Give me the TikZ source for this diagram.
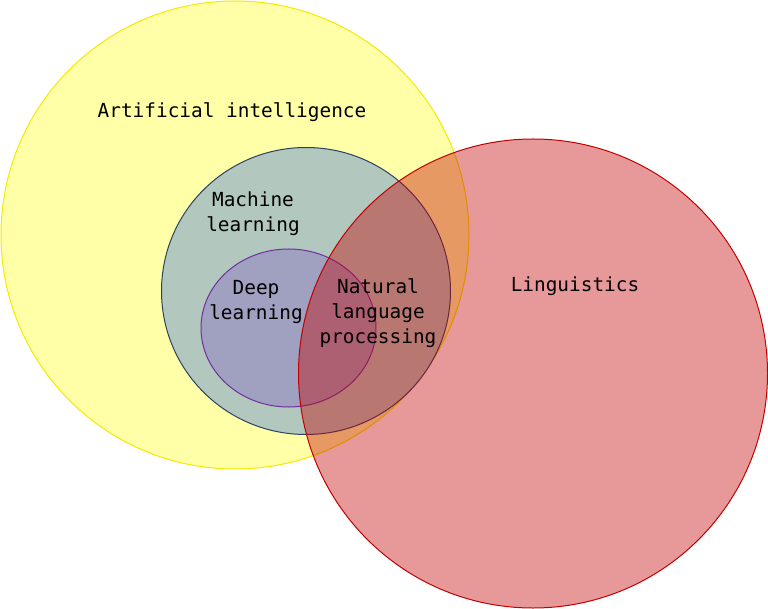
\documentclass[tikz,border=0pt]{standalone}
\usepackage{fontspec}
\usepackage{tikz}
\usepackage{xcolor}
\newfontfamily\vennfont{DejaVu Sans Mono}

\definecolor{aifill}{RGB}{255,255,168}
\definecolor{ailine}{RGB}{245,235,0}
\definecolor{mlfill}{RGB}{178,199,189}
\definecolor{mlline}{RGB}{45,65,100}
\definecolor{dlfill}{RGB}{160,160,192}
\definecolor{dlline}{RGB}{112,48,160}
\definecolor{lingred}{RGB}{195,0,0}

\begin{document}
\begin{tikzpicture}[x=1pt, y=-1pt,
        label text/.style={font=\vennfont\fontsize{19.4}{25}\selectfont, align=center, text=black}]
        \useasboundingbox (0,0) rectangle (768,609);

        % Artificial intelligence
        \draw[ailine, fill=aifill, line width=1pt] (235,235) circle (234);
        \node[label text] (ai) at (232,112) {Artificial intelligence};

        % Machine learning
        \draw[mlline, fill=mlfill, line width=1pt] (306,291) ellipse (144.5 and 143.5);
        \node[label text] (ml) at (253,214) {Machine\\learning};

        % Deep learning
        \draw[dlline, fill=dlfill, line width=1pt] (288.5,328) ellipse (87.5 and 79);
        \node[label text] (dl) at (256,302) {Deep\\learning};

        % Linguistics (transparent, on top)
        \draw[lingred, fill=lingred, fill opacity=0.4, line width=1pt] (533,373.5) circle (234.5);
        \node[label text] (ling) at (575,286) {Linguistics};
        \node[label text] (nlp) at (378,313) {Natural\\language\\processing};
    \end{tikzpicture}
\end{document}
